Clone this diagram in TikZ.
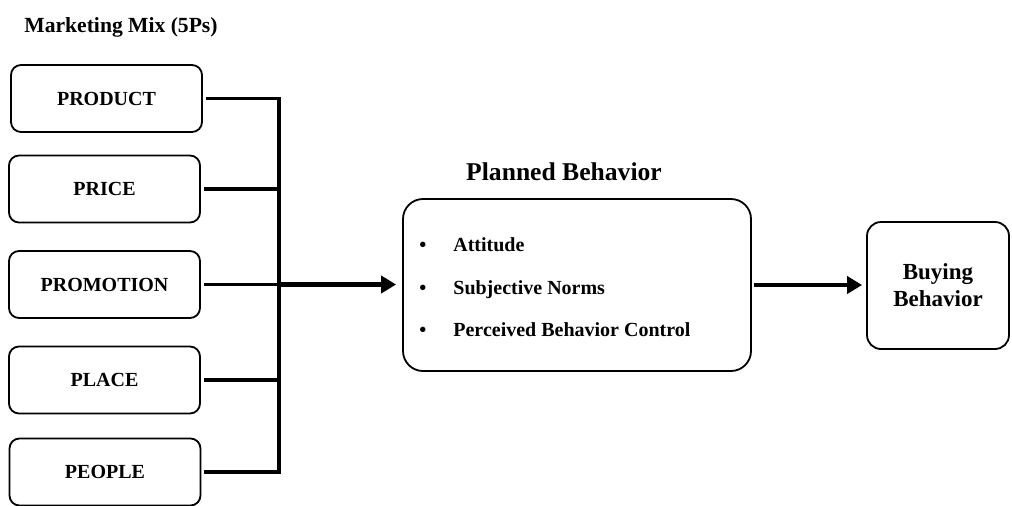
\documentclass[tikz,border=0pt]{standalone}
\usepackage{fontspec}
\setmainfont{Liberation Serif}
\usetikzlibrary{arrows.meta}

\begin{document}
\begin{tikzpicture}[x=0.5pt, y=-0.5pt,
    box/.style={draw, line width=0.9pt, rounded corners=5pt, minimum width=95.5pt,
      minimum height=33.5pt, font=\fontsize{10}{12}\selectfont\bfseries},
    conn/.style={line width=1.6pt, shorten <=1.5pt},
    arr/.style={line width=2.3pt, -{Triangle[length=7.5pt, width=8.5pt]}},
    item/.style={anchor=base west, inner sep=0pt, font=\fontsize{10}{12}\selectfont\bfseries}]
    \useasboundingbox (0,0) rectangle (1012,505);

    \node[font=\fontsize{10.8}{12}\selectfont\bfseries] (mixtitle) at (121,27) {Marketing Mix (5Ps)};

    % the five Ps
    \node[box] (product) at (106.5,98.5) {PRODUCT};
    \node[box] (price) at (104.5,189) {PRICE};
    \node[box] (promotion) at (104.5,284.5) {PROMOTION};
    \node[box] (place) at (104.5,380) {PLACE};
    \node[box] (people) at (105,472) {PEOPLE};

    \coordinate (trunk) at (279,0);
    \draw[conn, shorten >=1.5pt] (product.east) -- (product.east -| trunk)
      -- (people.east -| trunk) -- (people.east);
    \foreach \p in {price, promotion, place} {
        \draw[conn] (\p.east) -- (\p.east -| trunk);
    }

    % planned behavior
    \node[font=\fontsize{12.8}{15}\selectfont\bfseries] (plantitle) at (564,172) {Planned Behavior};
    \node[draw, line width=0.9pt, rounded corners=10pt, minimum width=174pt,
      minimum height=86pt] (planned) at (577,285) {};
    \node[item] (att) at (419,251) {\makebox[17pt][l]{\textbullet}Attitude};
    \node[item] (norms) at (419,294) {\makebox[17pt][l]{\textbullet}Subjective Norms};
    \node[item] (pbc) at (419,336) {\makebox[17pt][l]{\textbullet}Perceived Behavior Control};

    % buying behavior
    \node[draw, line width=0.9pt, rounded corners=7pt, minimum width=71pt,
      minimum height=63.5pt, align=center, font=\fontsize{11.5}{13.5}\selectfont\bfseries]
      (buying) at (938,285.5) {Buying\\Behavior};

    \draw[arr, shorten >=3pt] (promotion.east -| trunk) -- (promotion.east -| planned.west);
    \draw[arr, shorten <=1pt, shorten >=2pt] (planned.east) -- (planned.east -| buying.west);
\end{tikzpicture}
\end{document}
